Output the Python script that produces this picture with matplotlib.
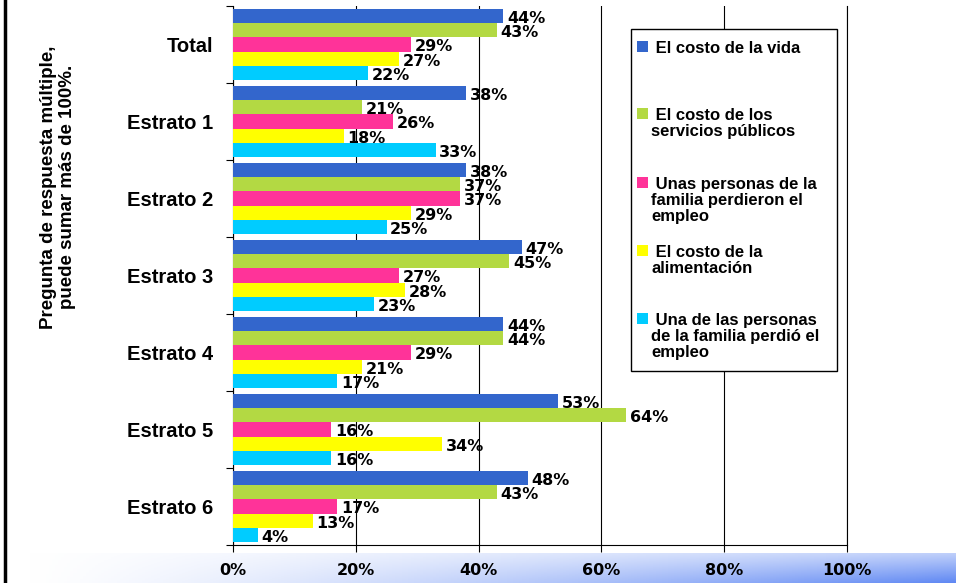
import numpy as np
import matplotlib
matplotlib.use("Agg")
import matplotlib.pyplot as plt
from matplotlib.patches import Rectangle

categories = ["Total", "Estrato 1", "Estrato 2", "Estrato 3", "Estrato 4", "Estrato 5", "Estrato 6"]
series = [
    "El costo de la vida",
    "El costo de los\nservicios públicos",
    "Unas personas de la\nfamilia perdieron el\nempleo",
    "El costo de la\nalimentación",
    "Una de las personas\nde la familia perdió el\nempleo",
]
costo_vida = [44, 38, 38, 47, 44, 53, 48]
servicios = [43, 21, 37, 45, 44, 64, 43]
perdieron = [29, 26, 37, 27, 29, 16, 17]
alimentacion = [27, 18, 29, 28, 21, 34, 13]
perdio = [22, 33, 25, 23, 17, 16, 4]
values = [costo_vida, servicios, perdieron, alimentacion, perdio]
colors = ["#3366CC", "#B3D943", "#FF3399", "#FFFF00", "#00CCFF"]

W, H = 956, 583
fig = plt.figure(figsize=(W / 100, H / 100), dpi=100)

# gradient band behind the x tick labels
bg = fig.add_axes([27 / W, 0, 1 - 27 / W, 30 / H])
xs = np.linspace(0, 1, 300)
ys = np.linspace(0, 1, 30)
X, Y = np.meshgrid(xs, ys)
t = (X ** 1.3) * (0.35 + 0.65 * (1 - Y)) * 0.85 + 0.08 * X
blue = np.array([0.33, 0.50, 0.95])
img = (1 - t[..., None]) * np.array([1, 1, 1]) + t[..., None] * blue
bg.imshow(img, aspect="auto", extent=[0, 1, 0, 1], origin="lower")
bg.axis("off")

ax = fig.add_axes([233 / W, 1 - 545 / H, (847 - 233) / W, (545 - 6) / H])
n = len(series)
bh = 0.187
y = np.arange(len(categories))
for i in range(n):
    pos = y - 2 * bh + i * bh
    ax.barh(pos, values[i], height=bh, color=colors[i], zorder=3)
    for p, v in zip(pos, values[i]):
        ax.text(v + 0.6, p + 0.03, f"{v}%", va="center", ha="left",
                fontsize=11.5, fontweight="bold", family="DejaVu Sans", zorder=4)

ax.set_xlim(0, 100)
ax.set_ylim(len(categories) - 0.5, -0.5)
ax.set_xticks([0, 20, 40, 60, 80, 100])
ax.set_xticklabels([f"{v}%" for v in [0, 20, 40, 60, 80, 100]],
                   fontsize=11.5, fontweight="bold", family="DejaVu Sans")
ax.set_yticks(np.arange(-0.5, len(categories), 1))
ax.set_yticklabels([])
ax.set_yticks(y, minor=True)
ax.set_yticklabels(categories, minor=True, fontsize=14.5, fontweight="bold",
                   family="Liberation Sans")
ax.tick_params(axis="y", which="minor", length=0, pad=14)
ax.tick_params(axis="y", which="major", length=5, width=0.8)
ax.tick_params(axis="x", length=5, width=0.8, pad=8)
ax.grid(axis="x", color="black", linewidth=0.8, zorder=0)
ax.spines["top"].set_visible(False)
ax.spines["right"].set_linewidth(0.8)

fig.text(58 / W, 1 - 187 / H, "Pregunta de respuesta múltiple,\npuede sumar más de 100%.",
         rotation=90, ha="center", va="center", multialignment="center",
         fontsize=13.5, fontweight="bold", family="Liberation Sans", linespacing=1.2)

# left border
fig.add_artist(plt.Line2D([5 / W, 5 / W], [0, 1], color="black", linewidth=2.5))

# legend box
lx0, lx1, ly0, ly1 = 631, 837, 29, 371
fig.add_artist(Rectangle((lx0 / W, 1 - ly1 / H), (lx1 - lx0) / W, (ly1 - ly0) / H,
                         facecolor="white", edgecolor="black", linewidth=1.0, zorder=5))
entry_top = [41, 108, 177, 245, 313]
for c, lab, ey in zip(colors, series, entry_top):
    fig.add_artist(Rectangle((637 / W, 1 - (ey + 11) / H), 11 / W, 11 / H,
                             facecolor=c, edgecolor="none", zorder=6))
    fig.text(651 / W, 1 - ey / H, " " + lab, ha="left", va="top", fontsize=12,
             fontweight="bold", family="Liberation Sans", linespacing=1.1, zorder=7)

fig.savefig("out.png", dpi=100)
